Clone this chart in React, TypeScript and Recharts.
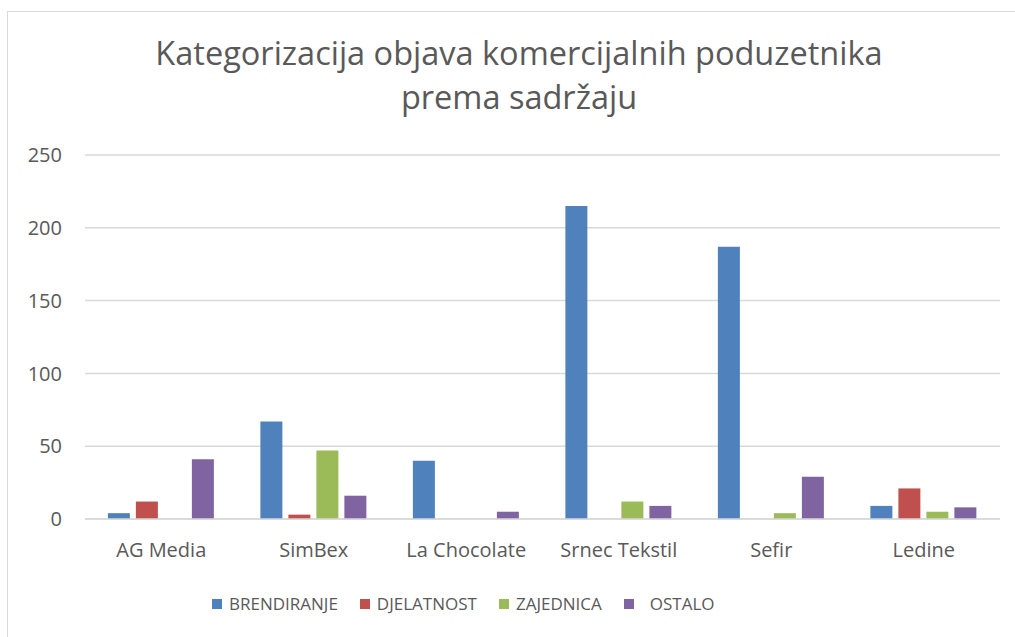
import { BarChart, Bar, XAxis, YAxis, CartesianGrid } from "recharts";

// categories (companies) and one array per content type
const companies = ["AG Media", "SimBex", "La Chocolate", "Srnec Tekstil", "Sefir", "Ledine"];
const brendiranje = [4, 67, 40, 215, 187, 9];
const djelatnost = [12, 3, 0, 0, 0, 21];
const zajednica = [0, 47, 0, 12, 4, 5];
const ostalo = [41, 16, 5, 9, 29, 8];
const yTicks = [0, 50, 100, 150, 200, 250];

const series = [
  { key: "BRENDIRANJE", color: "#4f81bd", values: brendiranje },
  { key: "DJELATNOST", color: "#c0504d", values: djelatnost },
  { key: "ZAJEDNICA", color: "#9bbb59", values: zajednica },
  { key: "OSTALO", color: "#8064a2", values: ostalo },
];

const data = companies.map((name, i) => {
  const row: { [key: string]: string | number } = { name };
  series.forEach((s) => (row[s.key] = s.values[i]));
  return row;
});

const FONT = "'Open Sans', 'Liberation Sans', sans-serif";
const TEXT = "#595959";

function App() {
  return (
    <div style={styles.page}>
      <div style={styles.frame} />
      <div style={styles.title}>
        Kategorizacija objava komercijalnih poduzetnika
        <br />
        prema sadržaju
      </div>
      <BarChart
        width={1015}
        height={637}
        data={data}
        margin={{ top: 155, right: 15, bottom: 88, left: 0 }}
        barCategoryGap="15%"
        barGap={6}
      >
        <CartesianGrid vertical={false} stroke="#d9d9d9" strokeWidth={1.5} />
        <XAxis
          dataKey="name"
          axisLine={{ stroke: "#d9d9d9", strokeWidth: 1.5 }}
          tickLine={false}
          tickSize={0}
          tickMargin={24}
          tick={{ fill: TEXT, fontSize: 20, fontFamily: FONT }}
        />
        <YAxis
          width={85}
          domain={[0, 250]}
          ticks={yTicks}
          axisLine={false}
          tickLine={false}
          tickSize={0}
          tickMargin={23}
          tick={{ fill: TEXT, fontSize: 20, fontFamily: FONT }}
        />
        {series.map((s) => (
          <Bar key={s.key} dataKey={s.key} fill={s.color} isAnimationActive={false} />
        ))}
      </BarChart>
      <div style={styles.legend}>
        {series.map((s, i) => (
          <span key={s.key} style={styles.legendItem}>
            <span
              style={{
                ...styles.swatch,
                background: s.color,
                marginRight: i === series.length - 1 ? 16 : 7,
              }}
            />
            {s.key}
          </span>
        ))}
      </div>
    </div>
  );
}

export default App;

const styles: { [key: string]: React.CSSProperties } = {
  page: {
    position: "absolute",
    left: 0,
    top: 0,
    width: 1015,
    height: 637,
    overflow: "hidden",
    background: "#fff",
  },
  frame: {
    position: "absolute",
    left: 7,
    top: 11,
    width: 1030,
    height: 650,
    border: "1.5px solid #d9d9d9",
  },
  title: {
    position: "absolute",
    left: 0,
    top: 31,
    width: 1038,
    textAlign: "center",
    fontFamily: FONT,
    fontSize: 32.5,
    lineHeight: "44px",
    color: TEXT,
  },
  legend: {
    position: "absolute",
    left: 212,
    top: 592,
    display: "flex",
    fontFamily: FONT,
    fontSize: 17,
    lineHeight: "24px",
    color: TEXT,
  },
  legendItem: {
    display: "inline-flex",
    alignItems: "center",
    marginRight: 22,
  },
  swatch: {
    display: "inline-block",
    width: 10,
    height: 10,
    marginRight: 7,
  },
};
